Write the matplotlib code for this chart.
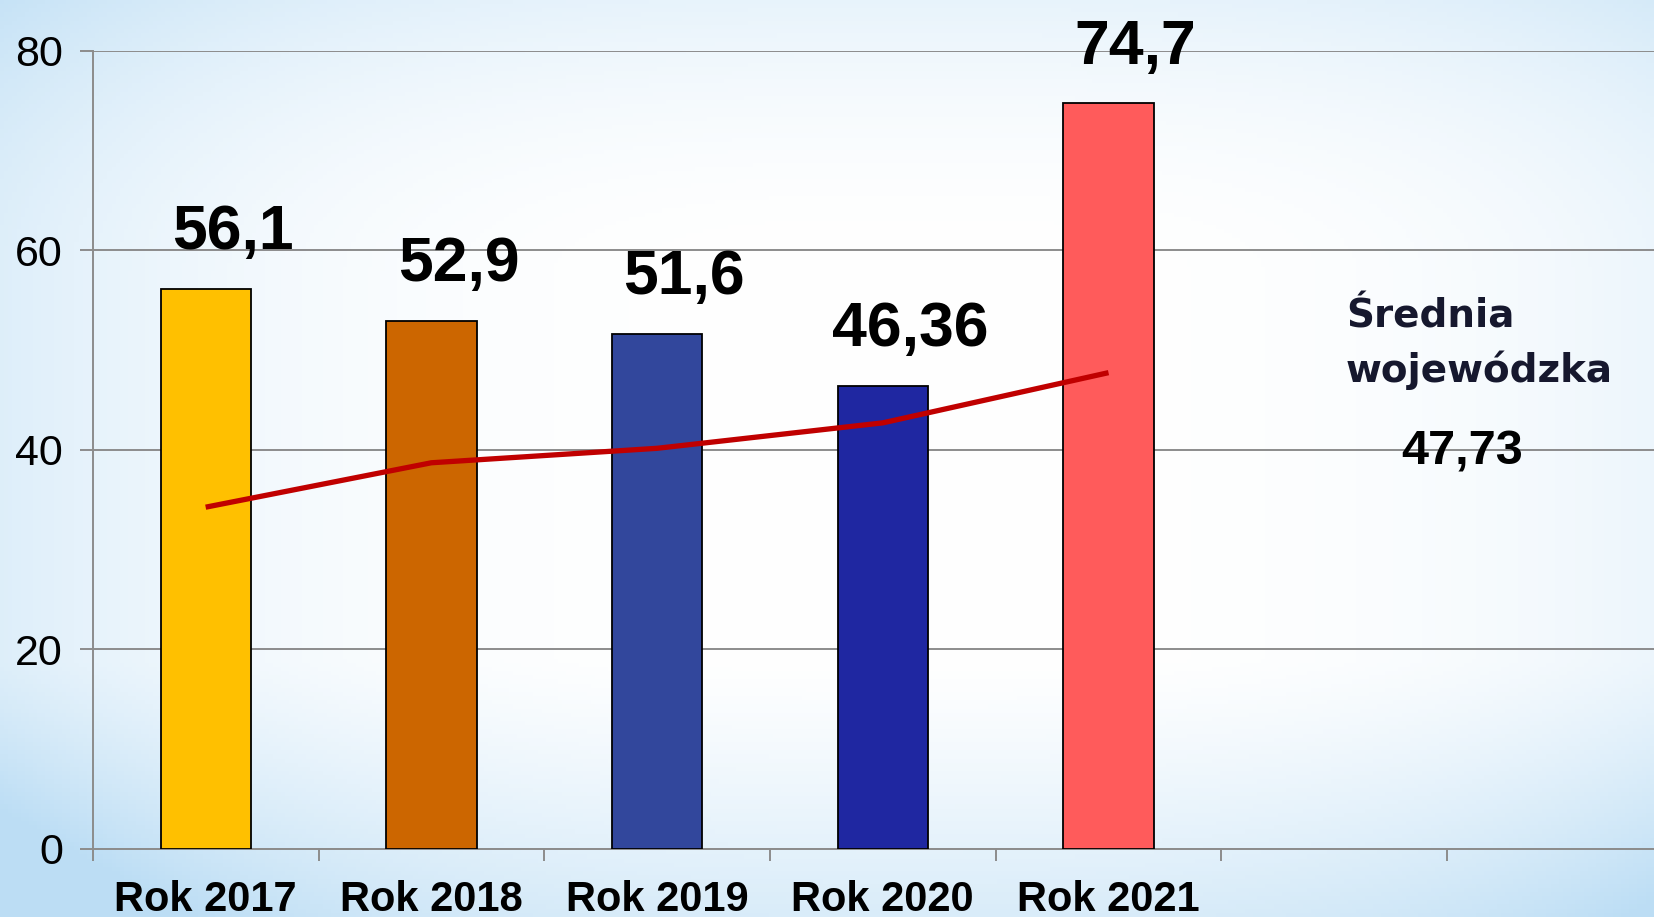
import numpy as np
import matplotlib.pyplot as plt

# data
years = ["Rok 2017", "Rok 2018", "Rok 2019", "Rok 2020", "Rok 2021"]
values = [56.1, 52.9, 51.6, 46.36, 74.7]
value_labels = ["56,1", "52,9", "51,6", "46,36", "74,7"]
avg_line = [34.25, 38.7, 40.15, 42.7, 47.73]
bar_colors = ["#FFC000", "#CC6600", "#32479C", "#1F27A1", "#FF5B5B"]
avg_title = ["Średnia", "wojewódzka"]
avg_value = "47,73"
y_ticks = [0, 20, 40, 60, 80]

W, H, DPI = 1654, 917, 100
fig = plt.figure(figsize=(W / DPI, H / DPI), dpi=DPI)

# background: white centre, pale blue top, stronger blue along the bottom
bg = fig.add_axes([0, 0, 1, 1], zorder=-10)
gx, gy = np.meshgrid(np.linspace(0, 1, 400), np.linspace(0, 1, 220))
side = np.clip(np.abs(gx - 0.55) / 0.55, 0, 1) ** 3
bottom = np.clip((gy - 0.72) / 0.28, 0, 1) ** 1.2
top = np.clip((0.3 - gy) / 0.3, 0, 1) ** 2
r = np.clip(0.5 * side + 0.95 * bottom * (0.6 + 0.4 * side) + 0.35 * top, 0, 1)
white = np.array([1.0, 1.0, 1.0])
blue = np.array([0.74, 0.87, 0.96])
img = white * (1 - r[..., None]) + blue * r[..., None]
bg.imshow(img, extent=[0, 1, 0, 1], aspect="auto", origin="upper")
bg.axis("off")

sans = "Liberation Sans"

ax = fig.add_axes([92.8 / W, 1 - 849 / H, 1580 / W, (849 - 50.6) / H])
ax.set_facecolor("none")
x = np.arange(len(years))
ax.bar(x, values, width=0.4, color=bar_colors, edgecolor="black",
       linewidth=1.3, zorder=3)
ax.plot(x, avg_line, color="#C00000", lw=3.8, zorder=4,
        solid_capstyle="butt")

for xi, v, lab in zip(x, values, value_labels):
    ax.text(xi + 0.12, v + 4.0, lab, ha="center", va="baseline",
            fontsize=45, fontweight="bold", family=sans,
            clip_on=False, zorder=5)

ax.set_xlim(-0.5, 6.5)
ax.set_ylim(0, 80)
ax.set_yticks(y_ticks)
ax.set_yticklabels([str(t) for t in y_ticks], family=sans, fontsize=31)
ax.set_xticks(x)
ax.set_xticklabels(years, family=sans, fontsize=30, fontweight="bold")
ax.set_xticks(np.arange(-0.5, 7, 1), minor=True)
ax.tick_params(axis="x", which="major", length=0, pad=22)
ax.tick_params(axis="x", which="minor", length=8.6, width=1.4,
               color="#8c8c8c", direction="out")
ax.tick_params(axis="y", length=9.4, width=1.4, color="#8c8c8c", pad=12)

ax.grid(axis="y", color="#8c8c8c", lw=1.4, zorder=0)
ax.set_axisbelow(True)
for s in ["top", "right"]:
    ax.spines[s].set_visible(False)
for s in ["left", "bottom"]:
    ax.spines[s].set_color("#8c8c8c")
    ax.spines[s].set_linewidth(1.4)

fig.text(1346 / W, 1 - 327 / H, avg_title[0], ha="left", va="baseline",
         fontsize=28, fontweight="bold", color="#16182e")
fig.text(1346 / W, 1 - 382 / H, avg_title[1], ha="left", va="baseline",
         fontsize=28, fontweight="bold", color="#16182e")
fig.text(1462 / W, 1 - 464 / H, avg_value, ha="center", va="baseline",
         fontsize=35, fontweight="bold", family=sans)

fig.savefig("out.png", dpi=DPI)
